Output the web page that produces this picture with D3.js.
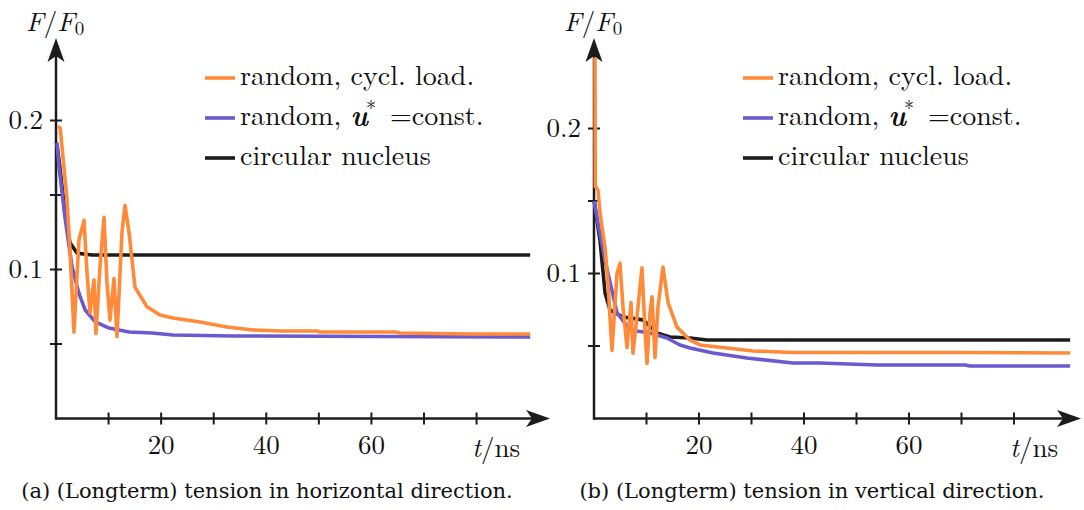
<!DOCTYPE html>
<html>
<head>
<meta charset="utf-8">
<script src="https://cdn.jsdelivr.net/npm/d3@7"></script>
<style>
  html, body { margin: 0; padding: 0; background: #fff; }
  svg { display: block; }
</style>
</head>
<body>
<div id="chart"></div>
<script>
// Data (t in ns, F/F0)
const hCycl = [[0.3,0.196],[0.8,0.195],[2.09,0.147],[2.66,0.113],[3.42,0.058],[4.37,0.12],[5.33,0.133],
  [5.9,0.098],[6.47,0.071],[7.23,0.093],[7.6,0.057],[8.37,0.102],[9.13,0.135],[9.7,0.091],[10.27,0.066],
  [11.03,0.094],[11.6,0.055],[12.55,0.125],[13.13,0.143],[13.89,0.125],[15.03,0.088],[17.31,0.075],
  [19.78,0.0695],[22.26,0.0674],[27.4,0.0648],[32.5,0.0614],[37.5,0.0594],[42.6,0.0587],[49.6,0.0587],
  [50.2,0.0581],[64.5,0.0581],[65.4,0.0574],[78.8,0.0567],[90.2,0.0567]];
const hConst = [[0.2,0.185],[0.57,0.169],[1.71,0.135],[3.04,0.102],[4.37,0.084],[5.52,0.073],[7.42,0.065],
  [10.08,0.0607],[13.89,0.0581],[18.26,0.0574],[22.26,0.056],[33.67,0.0554],[90.2,0.0547]];
const hCircle = [[0.1,0.185],[0.57,0.1735],[1.71,0.138],[2.66,0.118],[3.99,0.111],[6.85,0.1097],[90.2,0.1097]];

const vCycl = [[0.19,0.249],[0.25,0.16],[0.76,0.1576],[1.14,0.142],[2.1,0.118],[2.67,0.093],[3.43,0.047],
  [4.38,0.1],[4.95,0.107],[5.52,0.077],[6.29,0.049],[7.05,0.08],[7.43,0.045],[8.38,0.077],[9.14,0.104],
  [9.71,0.061],[10.1,0.038],[10.67,0.073],[11.05,0.084],[11.62,0.042],[12.19,0.077],[13.14,0.1045],
  [14.1,0.08],[15.8,0.063],[18.3,0.054],[20.2,0.0507],[25.3,0.0486],[30.3,0.0466],[37.9,0.0455],
  [70.7,0.0455],[90.7,0.0452]];
const vConst = [[0.05,0.15],[0.19,0.146],[2.1,0.109],[4.38,0.073],[6.86,0.061],[10.67,0.059],[13.9,0.0555],
  [16.38,0.0507],[18.3,0.0486],[22.67,0.0452],[29.1,0.0417],[37.9,0.0383],[43,0.0383],[53.9,0.0369],
  [70.7,0.0369],[71.6,0.0362],[90.7,0.0362]];
const vCircle = [[0.05,0.15],[0.19,0.146],[1.14,0.123],[2.1,0.0866],[3.05,0.0748],[5.52,0.07],[9.33,0.068],
  [12,0.059],[14.48,0.0562],[18.3,0.0555],[21.5,0.0541],[90.7,0.0541]];

const xTicks = [10, 20, 30, 40, 50, 60, 70, 80];
const xLabels = [20, 40, 60];
const yTicks = [0.05, 0.1, 0.15, 0.2];
const yLabels = [0.1, 0.2];
const seriesNames = ['random, cycl. load.', 'random, u* =const.', 'circular nucleus'];
const captions = ['(a) (Longterm) tension in horizontal direction.', '(b) (Longterm) tension in vertical direction.'];

const colors = ['#ff8a3a', '#6a5acd', '#1c1c1c'];
const W = 1084, H = 510;
const CM = "Latin Modern Roman";
const CAP = "DejaVu Serif";

const svg = d3.select('#chart').append('svg').attr('width', W).attr('height', H);

function arrowHead(g, x, y, dir) {
  // stealth-like arrow head; dir 'up' or 'right'
  const L = 24, hw = 8.5, notch = 6;
  let p;
  if (dir === 'up') p = [[x, y], [x + hw, y + L], [x, y + L - notch], [x - hw, y + L]];
  else p = [[x, y], [x - L, y - hw], [x - L + notch, y], [x - L, y + hw]];
  g.append('path').attr('d', 'M' + p.map(d => d.join(',')).join('L') + 'Z').attr('fill', '#1c1c1c');
}

function cmText(g, size) {
  return g.append('text').attr('font-family', CM).attr('font-size', size).attr('fill', '#111');
}

function panel(opt) {
  const g = svg.append('g');
  const x = d3.scaleLinear().domain([0, 90]).range([opt.x0, opt.x0 + 90 * opt.kx]);
  const y = d3.scaleLinear().domain([0, 0.25]).range([opt.y0, opt.y0 - 0.25 * opt.ky]);
  const ax = '#1c1c1c';

  // axes
  g.append('line').attr('x1', opt.x0).attr('x2', opt.xEnd - 10).attr('y1', opt.y0).attr('y2', opt.y0)
    .attr('stroke', ax).attr('stroke-width', 2.5);
  g.append('line').attr('x1', opt.x0).attr('x2', opt.x0).attr('y1', opt.y0 + 1.2).attr('y2', 48)
    .attr('stroke', ax).attr('stroke-width', 2.5);
  arrowHead(g, opt.xEnd, opt.y0, 'right');
  arrowHead(g, opt.x0, 38, 'up');

  g.selectAll('.xt').data(xTicks).enter().append('line')
    .attr('x1', d => x(d)).attr('x2', d => x(d)).attr('y1', opt.y0 - 6).attr('y2', opt.y0 + 6)
    .attr('stroke', ax).attr('stroke-width', 2);
  g.selectAll('.yt').data(yTicks).enter().append('line')
    .attr('y1', d => y(d)).attr('y2', d => y(d)).attr('x1', opt.x0 - 6).attr('x2', opt.x0 + 6)
    .attr('stroke', ax).attr('stroke-width', 2);

  g.selectAll('.xl').data(xLabels).enter().append('text')
    .attr('font-family', CM).attr('font-size', 27).attr('fill', '#111')
    .attr('x', d => x(d)).attr('y', opt.y0 + 35).attr('text-anchor', 'middle').text(d => d);
  g.selectAll('.yl').data(yLabels).enter().append('text')
    .attr('font-family', CM).attr('font-size', 27).attr('fill', '#111')
    .attr('x', opt.x0 - 13).attr('y', d => y(d) + 8.5).attr('text-anchor', 'end')
    .text(d => d3.format('.1f')(d));

  // axis titles
  const ty = cmText(g, 27).attr('x', opt.x0 - 30).attr('y', 31);
  ty.append('tspan').attr('font-style', 'italic').text('F');
  ty.append('tspan').text('/');
  ty.append('tspan').attr('font-style', 'italic').text('F');
  ty.append('tspan').attr('font-size', 19).attr('dy', 4).text('0');
  const tx = cmText(g, 27).attr('x', opt.x0 + 416).attr('y', opt.y0 + 38);
  tx.append('tspan').attr('font-style', 'italic').text('t');
  tx.append('tspan').text('/ns');

  // series
  const line = d3.line().x(d => x(d[0])).y(d => y(d[1])).curve(d3.curveLinear);
  [2, 1, 0].forEach(i => {
    g.append('path').datum(opt.series[i]).attr('d', line).attr('fill', 'none')
      .attr('stroke', colors[i]).attr('stroke-width', 3.6).attr('stroke-linejoin', 'round');
  });

  // legend
  seriesNames.forEach((name, i) => {
    const ly = 78 + i * 40;
    g.append('line').attr('x1', opt.legX).attr('x2', opt.legX + 30).attr('y1', ly).attr('y2', ly)
      .attr('stroke', colors[i]).attr('stroke-width', 3.6);
    const t = cmText(g, 28).attr('x', opt.legX + 35).attr('y', ly + 6.5);
    if (i === 1) {
      t.append('tspan').text('random, ');
      t.append('tspan').attr('font-weight', 'bold').attr('font-style', 'italic').text('u');
      t.append('tspan').attr('font-size', 20).attr('dx', -2).attr('dy', -10).text('*');
      t.append('tspan').attr('dy', 10).text('\u00a0=const.');
    } else {
      t.text(name);
    }
  });

  svg.append('text').attr('font-family', CAP).attr('font-size', 21).attr('fill', '#111')
    .attr('x', opt.capX).attr('y', 498).attr('text-anchor', 'middle').text(opt.caption);
}

panel({ x0: 56, kx: 5.257, y0: 418.5, ky: 1490, xEnd: 550, legX: 205, capX: 267,
  series: [hCycl, hConst, hCircle], caption: captions[0] });
panel({ x0: 594, kx: 5.25, y0: 418.5, ky: 1450, xEnd: 1081, legX: 743, capX: 812,
  series: [vCycl, vConst, vCircle], caption: captions[1] });
</script>
</body>
</html>
